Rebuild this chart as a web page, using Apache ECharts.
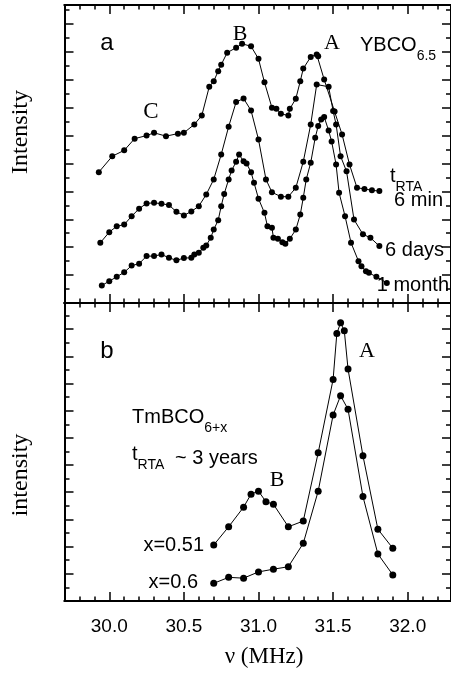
<!DOCTYPE html>
<html>
<head>
<meta charset="utf-8">
<script src="https://cdn.jsdelivr.net/npm/echarts@6.0.0/dist/echarts.min.js"></script>
<style>
  html, body { margin: 0; padding: 0; background: #fff; }
  #chart { width: 451px; height: 673px; }
</style>
</head>
<body>
<div id="chart"></div>
<script>
// frequency axis (MHz)
const X_MIN = 29.7;
const X_MAX = 32.29;
const xMajorTicks = [30.0, 30.5, 31.0, 31.5, 32.0];
const xMinorTicks = [29.8, 29.9, 30.1, 30.2, 30.3, 30.4, 30.6, 30.7, 30.8, 30.9,
  31.1, 31.2, 31.3, 31.4, 31.6, 31.7, 31.8, 31.9, 32.1, 32.2];

// intensity axes (arbitrary units)
const yMajorTicks = [1, 2, 3, 4, 5, 6, 7, 8, 9, 10];
const yMinorTicks = [0.5, 1.5, 2.5, 3.5, 4.5, 5.5, 6.5, 7.5, 8.5, 9.5, 10.5];
const Y_MAX_A = 10.68;
const Y_MAX_B = 10.96;

// panel a: YBCO6.5 after RTA
const sixMin = [
  [29.93, 4.69], [30.02, 5.26], [30.10, 5.47], [30.17, 5.89], [30.25, 6.00], [30.30, 6.10],
  [30.38, 5.98], [30.46, 6.07], [30.50, 6.10], [30.57, 6.40], [30.62, 6.72], [30.67, 7.75],
  [30.70, 7.95], [30.73, 8.31], [30.75, 8.54], [30.79, 8.97], [30.85, 9.15], [30.89, 9.29],
  [30.95, 9.20], [31.00, 8.75], [31.04, 7.91], [31.09, 7.00], [31.12, 6.96], [31.15, 6.78],
  [31.20, 6.72], [31.21, 6.96], [31.25, 7.32], [31.28, 7.95], [31.30, 8.40], [31.35, 8.82],
  [31.39, 8.91], [31.40, 8.84], [31.44, 8.01], [31.51, 6.86], [31.56, 6.04], [31.61, 4.96],
  [31.66, 4.13], [31.71, 4.09], [31.76, 4.04], [31.81, 4.01]
];
const sixDays = [
  [29.94, 2.16], [30.00, 2.54], [30.05, 2.75], [30.10, 2.81], [30.15, 3.11], [30.20, 3.38],
  [30.25, 3.57], [30.30, 3.59], [30.35, 3.56], [30.40, 3.51], [30.45, 3.27], [30.50, 3.14],
  [30.55, 3.28], [30.60, 3.47], [30.65, 3.89], [30.70, 4.43], [30.75, 5.32], [30.80, 6.32],
  [30.85, 7.20], [30.90, 7.33], [30.95, 6.90], [31.00, 5.86], [31.05, 4.43], [31.09, 3.97],
  [31.15, 3.81], [31.20, 3.81], [31.25, 4.13], [31.30, 5.06], [31.35, 6.40], [31.39, 7.83],
  [31.47, 7.75], [31.50, 6.88], [31.52, 6.40], [31.55, 5.26], [31.59, 4.72], [31.64, 2.99],
  [31.70, 2.46], [31.75, 2.34], [31.81, 2.04]
];
const oneMonth = [
  [29.95, 0.63], [30.00, 0.78], [30.05, 0.94], [30.10, 1.10], [30.15, 1.34], [30.20, 1.41],
  [30.25, 1.68], [30.30, 1.68], [30.35, 1.74], [30.40, 1.62], [30.45, 1.53], [30.50, 1.61],
  [30.55, 1.62], [30.57, 1.74], [30.60, 1.80], [30.63, 1.98], [30.65, 2.06], [30.68, 2.34],
  [30.70, 2.63], [30.73, 2.97], [30.75, 3.47], [30.77, 3.91], [30.80, 4.43], [30.82, 4.75],
  [30.85, 5.06], [30.87, 5.32], [30.90, 5.08], [30.92, 5.00], [30.95, 4.69], [30.97, 4.31],
  [31.00, 3.74], [31.04, 3.23], [31.06, 2.75], [31.09, 2.70], [31.10, 2.34], [31.13, 2.30],
  [31.16, 2.18], [31.18, 2.12], [31.21, 2.30], [31.25, 2.63], [31.28, 3.17], [31.30, 3.77],
  [31.32, 4.43], [31.35, 5.03], [31.38, 5.92], [31.40, 6.34], [31.42, 6.58], [31.44, 6.67],
  [31.47, 6.18], [31.49, 5.79], [31.52, 4.96], [31.54, 3.95], [31.58, 3.11], [31.62, 2.16],
  [31.67, 1.50], [31.69, 1.32], [31.72, 1.14], [31.74, 1.08], [31.79, 0.94], [31.86, 0.72]
];

// panel b: TmBCO6+x, tRTA ~ 3 years
const x051 = [
  [30.70, 2.06], [30.80, 2.73], [30.90, 3.45], [30.95, 3.93], [31.00, 4.04], [31.05, 3.65],
  [31.10, 3.56], [31.20, 2.73], [31.30, 2.94], [31.40, 5.45], [31.50, 8.15], [31.525, 9.84],
  [31.55, 10.23], [31.575, 9.94], [31.60, 8.53], [31.70, 5.34], [31.80, 2.64], [31.90, 1.94]
];
const x06 = [
  [30.70, 0.65], [30.80, 0.87], [30.90, 0.84], [31.00, 1.07], [31.10, 1.17], [31.20, 1.26],
  [31.30, 2.12], [31.40, 4.04], [31.50, 6.84], [31.55, 7.55], [31.60, 7.05], [31.70, 3.84],
  [31.80, 1.73], [31.90, 0.96]
];

const SANS = '"Liberation Sans", Arial, sans-serif';
const SERIF = '"Liberation Serif", "Times New Roman", serif';

function xAxis(grid, pos, ticks, len, showLabel) {
  return {
    type: 'value',
    gridIndex: grid,
    position: pos,
    min: X_MIN,
    max: X_MAX,
    axisLine: { show: true, onZero: false, lineStyle: { color: '#000', width: 2 } },
    axisTick: { show: true, inside: true, length: len, customValues: ticks, lineStyle: { color: '#000', width: 1.5 } },
    axisLabel: showLabel ? {
      show: true,
      customValues: xMajorTicks,
      margin: 16,
      color: '#000',
      fontSize: 19,
      fontFamily: SANS,
      formatter: (v) => v.toFixed(1),
    } : { show: false },
    splitLine: { show: false },
  };
}

function yAxis(grid, pos, ticks, len, max) {
  return {
    type: 'value',
    gridIndex: grid,
    position: pos,
    min: 0,
    max: max,
    axisLine: { show: true, onZero: false, lineStyle: { color: '#000', width: 2 } },
    axisTick: { show: true, inside: true, length: len, customValues: ticks, lineStyle: { color: '#000', width: 1.5 } },
    axisLabel: { show: false },
    splitLine: { show: false },
  };
}

function curve(data, xi, yi, size) {
  return {
    type: 'line',
    xAxisIndex: xi,
    yAxisIndex: yi,
    data: data,
    symbol: 'circle',
    symbolSize: size,
    showSymbol: true,
    lineStyle: { color: '#000', width: 1 },
    itemStyle: { color: '#000' },
    silent: true,
  };
}

function label(text, x, y, font, align) {
  return {
    type: 'text',
    x: x,
    y: y,
    style: { text: text, font: font, fill: '#000', align: align || 'center', verticalAlign: 'middle' },
  };
}

// text with a subscript part
function subLabel(main, sub, x, y, size, subSize, align) {
  return {
    type: 'text',
    x: x,
    y: y,
    style: {
      text: '{m|' + main + '}{s|' + sub + '}',
      align: align || 'left',
      verticalAlign: 'middle',
      rich: {
        m: { fontSize: size, fontFamily: SANS, fill: '#000', lineHeight: 28, verticalAlign: 'top' },
        s: { fontSize: subSize, fontFamily: SANS, fill: '#000', lineHeight: 15, verticalAlign: 'bottom' },
      },
    },
  };
}

const chart = echarts.init(document.getElementById('chart'), null, { renderer: 'canvas' });

chart.setOption({
  backgroundColor: '#fff',
  animation: false,
  grid: [
    { left: 64.5, right: -1, top: 5, height: 298 },
    { left: 64.5, right: -1, top: 303, height: 298 },
  ],
  xAxis: [
    xAxis(0, 'bottom', xMajorTicks, 9, false),
    xAxis(0, 'bottom', xMinorTicks, 4.5, false),
    xAxis(0, 'top', xMajorTicks, 9, false),
    xAxis(0, 'top', xMinorTicks, 4.5, false),
    xAxis(1, 'bottom', xMajorTicks, 9, true),
    xAxis(1, 'bottom', xMinorTicks, 4.5, false),
    xAxis(1, 'top', xMajorTicks, 9, false),
    xAxis(1, 'top', xMinorTicks, 4.5, false),
  ],
  yAxis: [
    yAxis(0, 'left', yMajorTicks, 9, Y_MAX_A),
    yAxis(0, 'left', yMinorTicks, 5, Y_MAX_A),
    yAxis(0, 'right', yMajorTicks, 9, Y_MAX_A),
    yAxis(0, 'right', yMinorTicks, 5, Y_MAX_A),
    yAxis(1, 'left', yMajorTicks, 9, Y_MAX_B),
    yAxis(1, 'left', yMinorTicks, 5, Y_MAX_B),
    yAxis(1, 'right', yMajorTicks, 9, Y_MAX_B),
    yAxis(1, 'right', yMinorTicks, 5, Y_MAX_B),
  ],
  series: [
    curve(sixMin, 0, 0, 6),
    curve(sixDays, 0, 0, 6),
    curve(oneMonth, 0, 0, 6),
    curve(x051, 4, 4, 7),
    curve(x06, 4, 4, 7),
  ],
  graphic: [
    // panel a
    label('a', 107, 43, '24px ' + SANS),
    label('B', 240, 34, '22px ' + SERIF),
    label('A', 332, 43, '22px ' + SERIF),
    label('C', 151, 112, '23px ' + SERIF),
    subLabel('YBCO', '6.5', 360, 49, 20, 14),
    subLabel('t', 'RTA', 390, 180, 20, 14),
    label('6 min', 443, 200, '20px ' + SANS, 'right'),
    label('6 days', 444, 250, '20px ' + SANS, 'right'),
    label('1 month', 449, 285, '20px ' + SANS, 'right'),
    // panel b
    label('b', 107, 351, '24px ' + SANS),
    subLabel('TmBCO', '6+x', 132, 421, 20, 14),
    subLabel('t', 'RTA', 132, 458, 20, 14),
    label('~ 3 years', 175, 458, '20px ' + SANS, 'left'),
    label('B', 277, 480, '22px ' + SERIF),
    label('A', 367, 351, '22px ' + SERIF),
    label('x=0.51', 204, 545, '20px ' + SANS, 'right'),
    label('x=0.6', 198, 582, '20px ' + SANS, 'right'),
    // axis titles
    {
      type: 'text', x: 21, y: 132, rotation: Math.PI / 2,
      style: { text: 'Intensity', font: '24px ' + SERIF, fill: '#000', align: 'center', verticalAlign: 'middle' },
    },
    {
      type: 'text', x: 21, y: 475, rotation: Math.PI / 2,
      style: { text: 'intensity', font: '24px ' + SERIF, fill: '#000', align: 'center', verticalAlign: 'middle' },
    },
    label('\u03bd (MHz)', 264, 657, '23px ' + SERIF),
  ],
});
</script>
</body>
</html>
